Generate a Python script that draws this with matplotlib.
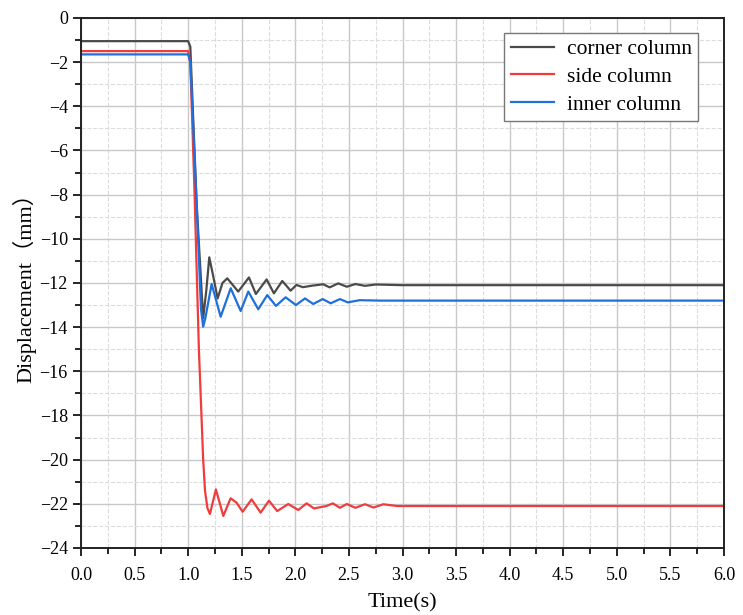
import matplotlib.pyplot as plt
from matplotlib.ticker import MultipleLocator

# data (time in s, displacement in mm)
corner_t = [0.0, 1.0, 1.02, 1.08, 1.14, 1.17, 1.197, 1.23, 1.275, 1.32, 1.365, 1.467, 1.567, 1.632,
            1.732, 1.80, 1.878, 1.956, 2.01, 2.07, 2.16, 2.26, 2.32, 2.40, 2.48,
            2.56, 2.65, 2.75, 3.0, 6.0]
corner_y = [-1.05, -1.05, -1.3, -8.5, -13.6, -12.3, -10.84, -11.6, -12.70, -12.0, -11.79, -12.39, -11.75, -12.5,
            -11.84, -12.47, -11.91, -12.35, -12.09, -12.19, -12.12, -12.06, -12.2, -12.02, -12.17,
            -12.05, -12.13, -12.07, -12.1, -12.1]

side_t = [0.0, 1.0, 1.02, 1.06, 1.10, 1.14, 1.157, 1.18, 1.203, 1.259, 1.328, 1.396, 1.452,
          1.508, 1.592, 1.676, 1.754, 1.831, 1.934, 2.027, 2.105, 2.174, 2.29, 2.35,
          2.416, 2.48, 2.56, 2.65, 2.73, 2.82, 2.95, 6.0]
side_y = [-1.5, -1.5, -2.0, -8.0, -15.0, -20.0, -21.4, -22.2, -22.46, -21.35, -22.55, -21.75, -21.95,
          -22.36, -21.8, -22.4, -21.86, -22.33, -22.01, -22.28, -21.98, -22.21, -22.1, -21.98,
          -22.18, -22.01, -22.18, -22.02, -22.17, -22.02, -22.1, -22.1]

inner_t = [0.0, 1.0, 1.02, 1.08, 1.12, 1.14, 1.16, 1.219, 1.303, 1.397, 1.49, 1.561, 1.654, 1.738,
           1.819, 1.909, 2.006, 2.09, 2.167, 2.255, 2.33, 2.416, 2.49, 2.6, 2.8, 6.0]
inner_y = [-1.65, -1.65, -2.0, -8.5, -13.2, -13.98, -13.6, -12.05, -13.53, -12.24, -13.27, -12.39, -13.19, -12.55,
           -13.04, -12.65, -13.0, -12.70, -12.95, -12.73, -12.92, -12.73, -12.88, -12.78, -12.8, -12.8]

x_ticks = [0.0, 0.5, 1.0, 1.5, 2.0, 2.5, 3.0, 3.5, 4.0, 4.5, 5.0, 5.5, 6.0]
y_ticks = [0, -2, -4, -6, -8, -10, -12, -14, -16, -18, -20, -22, -24]

plt.rcParams['font.family'] = ['Liberation Serif', 'Noto Sans CJK SC', 'DejaVu Sans']

fig = plt.figure(figsize=(7.43, 6.15), dpi=100)
ax = fig.add_axes([0.109, 0.109, 0.8655, 0.8618])

ax.plot(corner_t, corner_y, color='#4a4a4a', lw=1.6, label='corner column')
ax.plot(side_t, side_y, color='#f03c3c', lw=1.6, label='side column')
ax.plot(inner_t, inner_y, color='#1f6fdc', lw=1.6, label='inner column')

ax.set_xlim(0, 6)
ax.set_ylim(-24, 0)
ax.set_xticks(x_ticks)
ax.set_xticklabels([f'{v:.1f}' for v in x_ticks])
ax.set_yticks(y_ticks)
ax.set_yticklabels([f'{v}'.replace('-', '\u2212') for v in y_ticks])
ax.xaxis.set_minor_locator(MultipleLocator(0.25))
ax.yaxis.set_minor_locator(MultipleLocator(1))

ax.grid(which='major', color='#c8c8c8', lw=1.0, ls='-')
ax.grid(which='minor', color='#dcdcdc', lw=0.8, ls='--')
ax.set_axisbelow(True)

ax.tick_params(which='major', direction='out', length=6, width=1.2, labelsize=13, colors='black')
ax.tick_params(which='minor', direction='out', length=4, width=1.2)
ax.tick_params(axis='x', pad=8)
for s in ax.spines.values():
    s.set_linewidth(1.4)
    s.set_color('#222222')

ax.set_xlabel('Time(s)', fontsize=16, labelpad=6)
ax.set_ylabel('Displacement（mm）', fontsize=16, labelpad=2)

leg = ax.legend(loc='upper right', bbox_to_anchor=(0.96, 0.972), borderaxespad=0, fontsize=15.5,
                fancybox=False, framealpha=1, edgecolor='#777777',
                handlelength=2.0, borderpad=0.3, labelspacing=0.35, handletextpad=0.6)
leg.get_frame().set_linewidth(1.0)

fig.savefig('out.png', dpi=100)
